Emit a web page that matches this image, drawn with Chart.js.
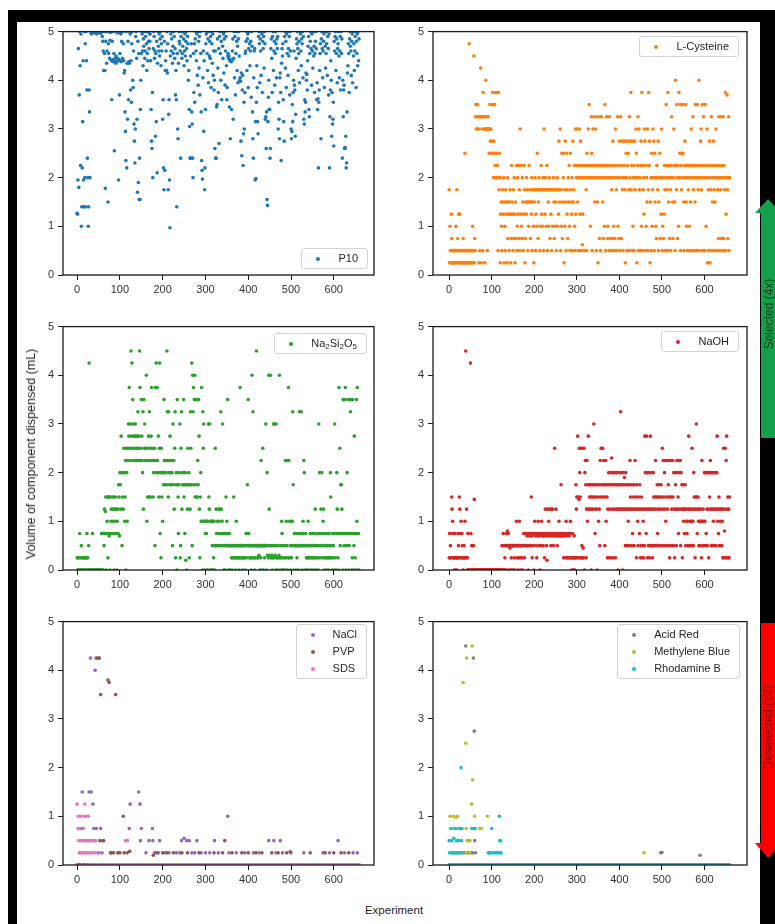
<!DOCTYPE html>
<html><head><meta charset="utf-8">
<script src="https://cdn.jsdelivr.net/npm/chart.js@4.4.1/dist/chart.umd.min.js"></script>
<style>
html,body{margin:0;padding:0;width:775px;height:924px;overflow:hidden;background:#fff;font-family:"Liberation Sans",Arial,sans-serif;}
#frame{position:absolute;left:8px;top:10px;width:767px;height:914px;background:#000;}
#fig{position:absolute;left:17px;top:22px;width:743px;height:902px;background:#fff;}
canvas{position:absolute;z-index:2;}
.legend{position:absolute;z-index:5;background:rgba(255,255,255,0.85);border:1px solid #d3d3d3;border-radius:3px;padding:2px 9px 2px 0;color:#262626;font-size:11px;}
.legend.multi{padding:1px 9px 1px 0;}
.legend .row{position:relative;height:15px;line-height:15px;padding-left:36px;white-space:nowrap;}
.legend.multi .row{height:17px;line-height:17px;}
.legend .dot{position:absolute;left:14px;top:50%;margin-top:-2px;width:4px;height:4px;border-radius:50%;}
.legend sub{font-size:8px;vertical-align:-2px;line-height:0;}
.vtext{position:absolute;z-index:6;transform:translate(-50%,-50%) rotate(-90deg);white-space:nowrap;}
.ctext{position:absolute;z-index:6;transform:translate(-50%,-50%);white-space:nowrap;}
.shape{position:absolute;z-index:4;}
</style>
</head>
<body>
<div id="frame"></div>
<div id="fig"></div>

<!-- arrows on the right -->
<div class="shape" style="left:761px;top:213px;width:16px;height:225px;background:#14a04b"></div>
<div class="shape" style="left:755px;top:199px;width:0;height:0;border-left:13px solid transparent;border-right:13px solid transparent;border-bottom:14px solid #14a04b"></div>
<div class="vtext" style="left:769px;top:314px;color:#0c3a1c;font-size:12px">Selected (4x)</div>
<div class="shape" style="left:761px;top:623px;width:16px;height:221px;background:#fe0000"></div>
<div class="shape" style="left:755px;top:843px;width:0;height:0;border-left:13px solid transparent;border-right:13px solid transparent;border-top:15px solid #fe0000"></div>
<div class="vtext" style="left:768px;top:727px;color:#8a0000;font-size:12px">Deselected (x2)</div>

<!-- shared axis titles -->
<div class="vtext" style="left:31px;top:454px;color:#222;font-size:12.5px">Volume of component dispensed (mL)</div>
<div class="ctext" style="left:394px;top:910px;color:#222;font-size:11.5px">Experiment</div>

<!-- legends -->
<div class="legend" style="right:407px;top:248px"><div class="row"><span class="dot" style="background:#1f77b4"></span>P10</div></div>
<div class="legend" style="right:36px;top:36px"><div class="row"><span class="dot" style="background:#ff7f0e"></span>L-Cysteine</div></div>
<div class="legend" style="right:408px;top:333px"><div class="row"><span class="dot" style="background:#2ca02c"></span>Na<sub>2</sub>Si<sub>2</sub>O<sub>5</sub></div></div>
<div class="legend" style="right:36px;top:331px"><div class="row"><span class="dot" style="background:#d62728"></span>NaOH</div></div>
<div class="legend multi" style="right:408px;top:624px">
  <div class="row"><span class="dot" style="background:#9467bd"></span>NaCl</div>
  <div class="row"><span class="dot" style="background:#8c564b"></span>PVP</div>
  <div class="row"><span class="dot" style="background:#e377c2"></span>SDS</div>
</div>
<div class="legend multi" style="right:35px;top:624px">
  <div class="row"><span class="dot" style="background:#7f7f7f"></span>Acid Red</div>
  <div class="row"><span class="dot" style="background:#bcbd22"></span>Methylene Blue</div>
  <div class="row"><span class="dot" style="background:#17becf"></span>Rhodamine B</div>
</div>

<script>
// ---------- tick labels ----------
const xTicks = [0, 100, 200, 300, 400, 500, 600];
const yTicks = [0, 1, 2, 3, 4, 5];

// ---------- full series: one value per experiment (mL) ----------
const p10 = [
1.27,1.25,1.95,4.65,1.8,3.7,5,4.3,2.25,4.95,1.0,1.4,2.2,3.15,4.4,1.95,1.4,5,2.0,4.75,1.4,5,4.4,3.8,2.4,2.0,1.0,1.4,3.8,3.35,
2.0,5,5,4.95,5,5,5,4.98,5,5,5,4.97,5,5,5,5,4.95,5,5,5,4.98,5,5,5,5,4.96,5,5,5,4.9,
4.8,4.6,4.2,5,4.55,4.2,1.78,4.8,5,4.35,4.6,5,1.5,4.75,4.55,5,4.45,4.82,4.98,5,
4.4,3.6,4.8,4.42,4.38,5,4.55,2.55,4.4,4.45,4.35,4.5,5,4.38,4.97,4.45,4.4,1.95,4.42,3.7,4.55,5,4.95,4.38,4.8,4.4,4.45,5,4.75,4.4,
4.15,4.2,3.35,2.95,2.35,5,2.2,4.35,3.2,4.8,3.6,4.38,4.35,5,4.95,3.8,4.4,3.55,4.75,5,4.0,3.85,4.6,3.1,2.75,2.3,3.0,4.9,5,4.45,
3.2,1.7,4.8,1.9,4.55,1.55,2.4,1.55,3.4,4.0,4.55,5,4.95,4.6,4.3,4.85,4.7,5,4.45,4.6,4.9,5,4.75,4.2,4.55,4.4,5,4.8,4.65,4.95,
4.8,4.95,4.4,3.4,2.75,2.6,3.75,2.0,4.65,5,4.9,4.45,4.6,2.85,4.55,3.15,4.8,2.1,4.35,5,4.7,4.6,4.95,4.5,4.85,5,4.3,4.75,4.6,4.9,
3.2,3.6,2.2,1.75,4.8,2.15,4.2,4.4,4.6,4.2,5,4.15,4.75,1.75,3.3,3.6,1.95,0.97,4.5,4.95,4.6,4.85,5,4.35,4.7,4.55,5,4.9,4.45,4.65,
3.7,4.2,3.6,1.4,4.55,3.0,2.8,4.35,5,4.8,4.75,4.6,2.4,4.9,5,4.45,4.55,4.7,5,4.85,4.3,4.6,4.95,4.5,4.8,5,4.65,4.4,4.9,4.75,
4.0,4.2,3.4,3.05,2.4,4.5,2.4,4.75,3.35,3.1,2.4,2.0,4.55,3.75,4.75,3.55,4.85,5,4.6,4.4,4.95,4.1,5,3.9,4.8,4.25,4.9,3.7,5,4.55,
3.35,2.35,2.15,1.97,4.05,4.6,2.95,4.4,1.75,2.2,3.4,4.75,4.95,5,4.55,4.2,4.85,3.95,5,4.5,4.8,4.45,4.9,3.85,5,4.75,4.35,4.95,4.1,4.6,
3.8,4.0,2.6,4.6,2.4,2.4,3.45,3.5,4.85,4.25,3.75,4.65,2.7,4.9,5,4.55,4.0,4.8,3.6,5,4.7,4.45,4.95,4.15,4.85,5,3.9,4.6,4.9,4.3,
3.6,3.85,4.5,4.55,4.45,4.5,3.45,4.4,2.8,4.42,4.38,3.4,4.4,4.6,4.85,3.2,4.45,5,4.05,4.9,3.7,4.55,5,4.8,4.2,4.7,3.95,4.85,5,4.5,
4.0,4.05,3.98,2.75,4.15,2.45,3.8,4.1,2.25,2.9,3.55,3.0,3.75,4.55,4.6,4.8,5,4.2,4.85,4.95,3.85,4.65,5,4.75,4.3,4.6,4.8,3.65,5,4.7,
3.35,2.8,2.4,4.05,4.6,4.65,1.95,3.15,1.98,3.55,4.3,3.85,3.15,2.9,4.9,5,4.75,3.95,4.85,4.6,4.1,5,4.95,3.75,4.8,4.65,4.9,4.25,5,4.75,
3.2,3.25,2.6,3.35,1.55,1.43,3.15,3.65,4.0,3.4,3.4,2.4,2.6,4.65,4.85,4.45,3.75,4.9,5,4.2,4.6,4.8,3.9,4.55,5,4.75,4.05,4.85,4.65,4.9,
3.0,3.55,3.2,2.8,4.05,4.15,3.75,2.35,4.35,4.65,4.5,4.75,3.6,3.15,2.75,4.9,5,4.25,4.8,3.85,4.95,4.55,5,4.1,4.65,4.5,4.9,3.7,5,4.6,
3.0,2.8,2.95,3.5,3.15,3.75,4.0,4.6,3.9,3.8,2.85,3.3,4.45,4.85,4.75,5,4.65,4.2,4.55,4.8,3.95,5,4.95,4.6,4.3,4.85,4.75,5,4.05,4.9,
3.2,3.1,3.6,3.35,3.55,4.15,4.0,4.12,3.8,4.4,4.7,4.9,3.4,3.25,4.55,4.8,5,4.65,3.9,4.95,4.6,4.25,5,4.5,4.7,3.75,4.55,4.8,5,4.65,
3.6,3.95,3.4,3.62,2.2,3.55,3.8,4.2,4.55,4.75,2.8,4.85,5,4.65,4.05,4.6,4.8,4.95,3.85,5,4.7,4.25,4.55,4.75,5,4.1,4.9,4.65,3.7,4.95,
2.2,3.25,3.8,4.4,4.0,2.85,3.75,3.1,3.2,3.55,2.65,4.8,4.6,4.9,5,4.2,4.55,4.85,3.95,4.65,4.75,5,4.5,4.05,4.6,4.9,3.8,5,4.55,4.85,
2.4,4.0,3.25,3.8,3.9,2.6,2.62,2.6,2.85,2.2,2.3,3.35,4.15,4.3,4.75,4.55,3.75,4.85,5,4.7,4.6,4.1,4.8,4.95,3.95,5,4.5,4.75,4.2,4.6,4.9,5,3.85,4.8,4.55,4.95,4.3,5,4.4,4.85
];

const lCysteine = [
1.75,0.25,1.0,0.5,0.25,1.25,0.75,0.25,0.5,0.25,0.5,0.25,0.25,0.5,0.25,0.5,1.0,0.25,1.75,0.5,
0.75,0.25,1.25,0.5,0.25,1.25,0.5,0.25,0.5,0.25,0.25,0.5,0.25,0.75,0.5,0.25,0.5,2.5,0.25,0.5,
0.25,0.5,0.25,0.5,0.25,0.5,0.25,4.75,0.5,0.25,0.5,0.25,0.5,0.25,0.5,1.0,0.25,0.5,4.5,0.25,
0.75,0.5,3.25,3.5,3.0,3.25,3.0,3.5,3.25,3.0,0.25,3.25,0.5,3.25,4.25,3.25,0.25,3.0,3.25,0.5,
3.75,3.25,3.0,3.25,0.25,3.0,4.0,3.0,3.25,3.0,0.5,3.0,3.25,3.0,2.5,3.0,3.5,2.75,3.0,2.5,
2.75,3.5,3.75,2.5,2.0,2.75,2.5,3.5,2.25,3.75,2.0,2.5,3.75,2.25,2.0,0.5,3.75,1.75,2.5,2.0,
0.25,1.25,1.5,1.0,0.5,1.75,1.5,1.25,2.0,0.25,1.5,1.0,0.5,1.75,1.25,1.5,0.25,2.0,0.75,1.5,
1.25,0.5,1.5,1.75,1.25,0.25,0.75,2.25,1.5,1.25,0.5,1.75,0.75,2.0,1.25,0.25,1.5,0.75,2.25,0.5,
1.0,2.0,1.25,2.25,0.75,1.75,0.5,3.0,1.25,2.25,1.0,0.75,2.0,1.5,0.5,1.25,2.25,1.75,0.25,0.75,
1.5,1.25,2.0,1.5,1.75,0.5,1.5,1.0,2.25,1.5,1.75,0.75,1.5,1.25,2.0,0.5,1.5,1.75,1.0,0.25,
1.5,1.75,2.0,0.5,1.25,1.75,1.0,2.5,1.75,0.75,1.5,2.0,1.75,0.5,1.0,1.75,2.25,1.25,1.75,1.0,
2.0,1.75,0.5,3.0,1.75,1.25,2.0,1.75,1.0,1.75,2.25,0.5,1.75,1.5,1.0,2.0,1.75,0.75,1.75,1.25,
1.75,0.5,1.75,1.0,1.75,2.0,1.5,0.75,1.75,1.0,1.75,1.5,0.5,1.75,2.0,1.0,1.75,1.25,2.75,1.75,
1.5,3.0,0.5,1.75,1.0,2.5,0.75,1.5,2.0,2.5,0.25,1.75,1.0,2.75,1.5,0.5,2.5,1.25,1.75,0.75,
2.0,1.5,2.25,1.0,0.5,2.5,1.75,1.5,1.25,2.0,0.5,2.75,1.5,1.75,2.25,1.0,0.5,3.0,1.25,2.0,
2.25,3.0,1.5,2.0,0.5,2.25,3.0,2.0,1.25,2.75,0.5,2.25,2.0,0.62,1.25,2.0,2.25,0.5,2.0,2.25,
2.25,2.0,1.75,0.5,2.5,2.25,2.0,3.0,2.25,3.5,2.0,2.25,1.0,2.0,3.25,2.5,0.5,2.25,3.0,2.0,
3.25,2.25,1.5,2.0,3.0,2.25,0.5,3.25,2.0,1.5,0.25,2.25,2.0,0.75,3.25,2.25,0.5,2.0,3.25,2.25,
2.0,1.5,0.75,2.25,2.0,1.0,3.5,2.25,0.5,2.0,3.25,2.25,0.75,1.0,2.0,2.25,0.5,3.25,2.0,0.75,
2.25,0.5,1.75,2.0,0.75,2.75,2.25,1.0,0.5,2.0,0.75,3.0,2.25,1.75,0.5,2.0,3.25,1.0,2.25,0.75,
2.75,2.0,0.5,3.25,2.25,0.75,2.75,1.75,2.0,0.5,2.75,2.25,2.0,1.75,0.25,2.75,2.5,2.0,0.5,2.25,
2.75,2.5,1.75,0.5,3.25,2.0,2.75,3.75,1.75,2.25,0.5,2.75,1.0,2.0,2.25,0.5,2.75,1.75,2.0,3.0,
2.5,0.25,2.0,2.25,3.25,0.5,3.0,1.75,2.0,0.5,2.25,2.75,1.0,3.75,0.5,2.25,1.75,2.0,1.25,3.0,
2.75,0.5,2.25,1.0,2.0,1.5,3.0,0.5,1.75,3.75,2.25,2.75,0.25,1.5,2.0,0.5,2.5,1.0,1.75,3.0,
2.0,2.75,0.5,2.5,1.5,2.0,1.0,0.75,2.25,2.0,1.75,2.75,0.5,1.5,2.0,2.5,0.75,2.0,1.25,3.0,
2.0,0.5,1.0,2.0,0.75,1.25,2.25,1.75,0.5,2.0,3.5,2.25,1.75,0.5,3.75,2.0,1.5,2.25,0.75,2.0,
1.75,0.5,2.25,3.25,2.0,1.5,0.75,2.0,3.0,2.25,1.5,0.5,4.0,2.25,1.75,3.5,2.0,0.75,2.25,1.0,
3.75,2.0,2.5,3.5,0.5,2.25,1.75,2.5,2.0,3.5,2.5,1.5,0.5,2.25,2.75,2.0,3.5,1.5,1.0,2.25,
0.5,2.0,1.75,2.25,0.5,1.0,2.0,1.5,2.25,3.0,0.5,2.0,2.25,3.25,1.75,2.0,0.5,2.25,1.5,3.5,
2.25,2.0,0.5,3.5,2.25,1.75,2.0,4.0,0.5,2.25,2.0,2.75,3.0,1.75,2.25,3.5,0.5,2.0,3.25,2.25,
2.0,0.5,3.5,2.25,1.0,2.0,3.0,0.25,2.25,1.75,0.5,2.0,2.75,0.25,2.25,1.75,3.25,0.5,2.0,1.5,
2.25,2.75,2.0,1.75,0.5,1.5,2.25,3.0,2.0,0.5,2.25,1.75,2.0,0.75,3.25,2.25,0.5,2.0,1.75,3.25,
0.75,2.25,2.0,0.5,3.25,0.75,2.25,1.75,2.0,3.75,0.5,1.25,2.0,3.7,1.75,0.75,2.0,3.25,0.5,2.0
];

const na2si2o5 = [
0.25,0,0.25,0,0.25,0,0.75,0,0.25,0,0.5,0,0.25,0,0.25,0,0,0.25,0,0.25,
0.25,0,0.25,0.75,0,0.25,0,0.5,4.25,0,0,0,0,0,0,0,0.75,0,0,0,
0,0,0,0,0,0,0,0,0,0,0,0,0,0,0,0,0,0.75,0,0,
0.75,0,0.75,0.5,1.25,0.75,1.2,1.5,0,0.75,1.0,1.5,0.25,0.75,1.5,0.7,1.5,0,0.75,1.0,
1.25,1.5,0.75,1.0,1.25,1.5,0,1.25,0.75,1.0,1.5,1.25,0.75,0,1.0,1.25,0.75,1.75,1.5,0.7,
2.0,1.75,1.25,2.75,2.0,0.5,1.5,2.0,1.25,2.5,2.0,1.0,1.5,2.25,0,2.5,2.0,1.0,2.25,2.5,
3.0,2.75,3.75,2.5,2.25,3.0,4.5,2.75,4.25,2.5,3.5,2.25,3.0,2.75,2.5,2.25,3.0,2.75,2.5,2.25,
2.75,2.5,3.25,2.25,2.75,2.5,4.5,3.75,2.25,2.5,3.5,2.75,2.25,2.0,3.25,1.25,3.5,2.5,3.0,2.25,
2.5,2.25,4.0,1.0,2.5,1.5,2.25,2.75,1.5,3.25,2.25,2.5,1.5,2.75,3.75,2.25,2.5,2.25,1.5,2.0,
2.25,2.5,0.5,3.75,2.25,4.25,2.0,3.75,2.25,2.0,2.75,1.5,2.5,4.25,0.75,2.0,0.25,2.5,1.5,2.0,
1.0,2.0,1.75,3.5,2.25,2.0,1.75,2.25,2.0,1.75,4.5,3.25,2.25,1.5,3.25,2.0,1.75,2.75,2.25,2.0,
1.75,2.25,2.0,0.5,3.0,1.75,2.25,1.25,2.5,3.25,0.25,1.75,2.0,0,3.5,1.75,1.5,0.75,1.75,2.0,
3.0,0.25,0.5,2.5,3.25,1.25,1.75,2.0,1.75,3.5,1.5,1.75,0.75,2.0,0.2,1.75,0,1.75,1.25,2.5,
1.75,2.0,0.25,1.75,1.25,3.25,2.5,1.75,4.25,0.5,4.0,3.25,3.75,1.75,3.5,4.0,1.5,3.5,1.75,1.5,
3.5,1.5,2.25,1.75,3.5,2.75,1.25,0.25,1.5,2.0,1.0,3.75,1.0,0,3.25,2.5,3.0,1.0,0,1.0,
0.75,1.0,0.75,1.0,0,1.0,0,3.0,1.5,1.25,3.0,1.0,0,1.0,0,1.0,0.5,0,1.0,0.25,
1.0,0,0.5,2.5,0.5,1.25,0.75,0.5,1.0,0.75,1.25,0.5,1.0,0.75,1.25,0.5,3.25,1.25,0.75,1.0,
3.0,0.5,0.75,0,0.5,0.75,0,0.5,1.5,0.75,1.0,0.5,3.5,0.75,0,0.5,0.75,0,0.5,0.5,
0.5,0.25,0,0.5,0.25,0.5,1.5,0.25,0.5,0.25,0,0.5,1.0,0.25,0.5,0.25,0.5,0.25,0,0.5,
0.25,3.75,0.5,0.25,0.5,0.25,0,0.5,0.25,0.5,0.25,0.5,0.25,0,0.5,0.75,0.25,0.75,1.75,0.5,
3.5,0.75,0.5,0.25,0.5,0.25,0.5,0,0.25,4.0,0.5,3.25,0.25,0.5,0.25,0,0.5,0.25,0.5,4.5,
0.5,0.25,0.5,0.25,0.5,0.3,0.5,0,0.5,0.25,2.25,0.5,0,0.5,2.5,0.5,0,0.5,0.25,0.5,
0.5,3.0,0.5,0,2.0,0.3,0.5,0.25,4.0,1.25,0.3,0.5,4.0,0.25,0.5,0.3,0,0.25,0.5,3.0,
0.25,3.0,0.5,0.3,0,3.0,0.25,0.5,0.25,0,0.5,0.25,0.3,4.0,0.25,0,0.5,0.25,1.0,0.75,
0,0.25,0.5,0,0.25,0.5,0,2.25,0.25,1.0,0.5,2.25,0,0.25,3.75,2.25,0.25,1.0,0.5,0,
1.0,0.25,0.5,1.0,3.25,1.75,0.5,0,0.75,0.5,0.5,0.75,0,0.5,0.25,0.5,0.75,0.5,0,0.5,
3.25,0.5,0.75,0.5,3.25,0.5,0,0.75,1.0,0.5,2.25,2.0,0.5,0,0.75,0.5,0.25,0,0.5,0.25,
1.0,0.25,0,0.5,0.25,0.75,0.5,0.25,0,0.5,0.75,0.25,0.5,0,0.25,0.75,0.5,1.25,0.25,0,
0.5,0.25,0.75,0.5,0,3.0,0.25,2.0,0.75,0.5,1.25,0.25,2.0,0.5,0.75,1.0,1.25,0.25,0,0.5,
0.75,0.25,0.5,0,0.25,0.75,0.5,0.25,0,0.75,0.5,0.25,2.0,1.5,0.25,0.5,0,0.75,0.25,0.5,
0.75,0,3.0,0.75,0.25,0,0.75,2.0,1.25,0.75,0.25,0,3.75,0.75,2.5,0.5,1.75,0.75,1.75,1.25,
0.75,0,3.5,0.75,0.5,3.5,0.75,3.75,0,0.75,0.5,2.0,0.75,3.5,0,0.75,0.5,0.75,3.5,3.25,
0.75,0,3.5,0.25,3.5,0.75,0,0.5,2.75,0.75,0.25,0,0.75,3.5,1.0,3.75,0.75,0,0.75,0
];

const naoh = [
0.25,0.75,0.25,0.5,0.75,0.25,1.5,1.25,1.0,0.25,0.75,0.25,0,0.25,0.75,0.25,0,0.25,0,0.25,
0.25,0.75,0.5,0.25,1.5,1.25,0.75,0.25,1.0,0.25,0.75,0.5,0.25,0,0.25,0.5,0.25,1.0,0.25,4.5,
0.25,1.25,0,0.25,0.75,0,0,0,0,0,4.25,0.75,0,0.5,0,0.5,0,0.5,0,1.45,
0,0,0,0,0,0,0,0,0,0,0,0,0,0,0,0,0,0,0,0,
0,0,0,0,0,0,0,0,0,0,0,0,0,0,0,0,0,0,0,0,
0,0,0,0,0,0,0,0,0,0,0,0,0,0,0,0,0,0,0,0,
0,0,0,0,0.5,0,0,0.75,0,0.5,0,0.25,0,0.5,0.75,0,0.5,0.8,0.5,0.75,
0.5,0,0.5,0.45,0,0.5,0.25,0.5,0,0.5,0.5,0,0.5,0.25,0.5,0,0.5,0.5,1.0,0.5,
0.25,0.5,0,0.5,0.25,1.0,0.5,0.25,0,0.5,0.5,0.25,0.5,0,0.5,0.75,0.5,0.25,0.75,0.5,
0.75,0.5,0.75,0.7,0.5,0.75,0,0.75,0.5,0.7,0.75,0.5,0.75,1.5,0.7,0.25,0.75,0.5,0.75,0,
0.75,1.0,0.75,0.7,0.5,0.75,0.25,0.75,0.7,1.0,0.75,0.5,0.7,0.75,0,0.75,0.5,1.0,0.75,0.7,
0.75,0.5,0.7,0.75,0.25,0.75,1.25,0.7,0.75,0.5,0.2,1.25,0.75,0.7,1.0,0.75,1.25,0.7,0.75,0.5,
1.25,0.75,0.7,1.25,0.75,0.5,0.75,0.7,2.5,0.75,0.75,1.25,0.7,0.75,0.5,0.75,0.7,0.75,1.0,0.75,
0.7,0.75,0.75,1.75,0.7,0.75,0.75,0.7,0.75,0.25,0.75,0.7,0.75,0.25,0.75,1.0,0.7,0.25,0.75,0.25,
0.75,0.25,0.7,0.75,0.25,1.0,0.75,0.25,0,0.25,0.75,0.25,0,0.25,0.7,0,0.25,0.25,1.75,1.25,
1.5,0.25,2.75,1.5,0.25,1.45,2.5,2.0,1.5,0.25,2.5,0.25,0.5,2.5,0.25,0.45,0.25,2.5,0,2.0,
2.25,1.75,0.25,1.25,2.25,1.0,1.75,2.75,1.25,1.75,1.5,1.25,1.75,1.5,0,1.25,1.75,1.5,1.25,1.75,
3.0,1.5,1.75,0.75,1.25,1.5,1.75,1.25,0,1.75,1.5,1.0,1.75,1.25,0.5,2.25,1.5,2.5,1.75,2.5,
1.75,2.5,1.5,2.25,1.75,1.5,0.5,1.75,2.25,1.0,1.75,1.5,0.25,1.25,1.75,2.0,0.25,1.25,1.75,2.0,
0.25,1.75,2.3,1.25,2.0,1.75,0.25,2.0,1.25,1.75,2.0,0.25,1.75,1.25,2.0,1.75,1.25,0,1.75,1.25,
1.75,2.0,1.25,3.25,1.75,2.0,1.25,1.75,0,2.0,1.25,1.75,1.9,1.25,0.5,2.0,1.75,1.25,0.5,1.75,
1.25,1.0,1.75,0.5,1.25,2.25,1.5,1.75,1.25,0.5,1.25,0.75,1.75,1.5,1.25,0.5,1.75,2.25,1.25,1.5,
0.25,1.75,1.25,1.0,0.5,1.5,1.25,0.75,1.75,0.25,1.25,0.5,1.5,0.25,1.25,0.5,1.0,0.25,1.25,0.5,
2.75,2.0,1.25,0.75,2.75,2.0,0.25,1.25,0.5,2.0,1.25,0.25,0.5,2.75,1.25,2.0,0.5,1.25,0.25,0.5,
2.0,1.5,1.25,0.5,1.5,2.25,1.25,0.5,1.5,1.75,0.75,1.5,1.25,0.5,1.75,1.5,1.25,0.5,1.75,0.5,
1.5,2.5,1.25,2.25,0.5,1.5,2.0,1.25,2.25,1.0,0.5,2.25,1.5,1.25,0.5,1.75,2.25,1.5,0.25,2.25,
0.5,1.5,2.25,1.25,0.5,2.25,1.5,0.5,2.0,1.25,0.25,2.0,1.75,1.25,0.5,2.25,1.25,2.0,1.5,0.75,
2.25,1.25,2.0,2.25,0.5,2.0,1.25,1.75,0.25,1.25,1.75,1.0,1.25,0.75,1.25,1.75,0.5,1.25,1.0,0.75,
1.0,0.5,1.25,2.75,0.5,1.25,1.0,0.5,1.25,1.0,0.5,2.5,1.25,1.0,0.5,2.0,1.5,1.25,0.25,1.5,
1.25,3.0,1.5,0.75,1.25,1.5,1.0,0.5,1.25,1.0,0.5,1.25,1.0,0.25,2.25,1.0,0.5,1.25,1.0,0.5,
2.0,1.0,0.5,2.0,0.75,2.0,1.25,0.5,2.0,1.25,0.25,2.0,1.5,2.0,2.25,1.25,0.5,2.0,1.25,0.5,
2.0,1.0,1.25,2.0,0.5,1.25,2.0,0.5,1.25,2.0,2.75,1.0,1.25,0.75,1.5,0.5,1.25,1.0,0.5,1.25,
1.25,0.5,1.0,0.25,1.25,2.5,0.25,0.8,1.25,2.5,0.25,2.25,2.75,0.25,1.25,1.5,0.25,1.25,0.25,1.5
];

// ---------- sparse series: [experiment, mL] where non-zero; all other experiments are 0 ----------
const nacl = [[12,1.5],[28,1.5],[31,4.25],[33,1.5],[37,1.25],[39,0.75],[41,0.5],[42,4.0],[44,4.25],[45,0.75],[50,0.25],[55,0.75],[58,0.25],
[122,0.75],[124,1.25],[144,1.5],[147,1.25],[148,0.5],[150,0.75],[161,0.25],[168,0.5],[176,0.75],[177,0.5],[181,0.25],[190,0.25],[193,0.5],
[205,0.25],[215,0.25],[232,0.25],[240,0.25],[244,0.5],[250,0.55],[256,0.5],[262,0.5],[268,0.25],[275,0.25],[280,0.5],[290,0.25],[300,0.25],
[310,0.25],[321,0.5],[330,0.25],[352,1.0],[355,0.25],[372,0.25],[392,0.25],[412,0.25],[425,0.25],[448,0.5],[460,0.5],[465,0.25],[475,0.5],
[480,0.25],[500,0.25],[530,0.25],[575,0.25],[590,0.25],[610,0.5],[625,0.25],[645,0.25],[655,0.25]];
const pvp = [[10,0.75],[20,0.5],[48,4.25],[52,4.25],[53,0.5],[55,3.5],[60,0.5],[62,0.5],[72,3.8],[75,3.75],[78,0.25],[80,0.25],[85,0.25],
[90,3.5],[95,0.25],[100,0.25],[108,1.0],[110,0.25],[117,0.25],[123,0.28],[178,0.2],[186,0.25],[200,0.25],[210,0.25],[225,0.25],[245,0.25],
[258,0.25],[285,0.25],[320,0.25],[340,0.25],[345,0.5],[362,0.25],[385,0.25],[400,0.25],[418,0.25],[432,0.25],[455,0.25],[470,0.25],[490,0.25],
[498,0.27],[545,0.25],[580,0.25],[600,0.25],[617,0.25],[635,0.25]];
const sds = [[0,1.25],[2,0.75],[3,1.0],[4,0.5],[5,0.25],[6,0.75],[7,0.25],[8,1.0],[9,0.5],[11,0.25],[13,0.5],[14,0.25],[15,0.75],[16,1.0],
[17,0.25],[18,1.25],[19,0.5],[21,1.0],[22,0.25],[24,0.5],[25,0.25],[26,1.0],[27,0.5],[29,0.25],[30,0.5],[34,0.25],[36,0.5],[40,0.25],
[43,0.5],[46,0.25],[113,0.5],[118,0.5]];
const acidRed = [[10,0.25],[20,0.25],[36,0.25],[39,4.5],[45,0.25],[50,0.25],[55,0.25],[57,4.25],[59,2.75],[60,0.5],[62,0.25],[95,0.25],
[497,0.25],[500,0.26],[590,0.2]];
const methyleneBlue = [[2,1.0],[3,0.75],[4,0.25],[8,0.25],[10,1.0],[12,0.75],[14,0.25],[16,0.98],[18,0.25],[20,1.0],[22,0.75],[26,0.25],
[30,0.25],[33,3.75],[38,0.25],[39,2.5],[40,0.75],[41,4.25],[42,0.5],[46,0.5],[48,0.25],[49,0.5],[53,1.25],[54,4.5],[55,1.75],[60,1.0],
[72,0.75],[76,0.75],[90,1.0],[120,0.25],[458,0.25]];
const rhodamineB = [[0,0.5],[1,0.25],[5,0.75],[6,0.5],[7,0.25],[11,0.55],[13,0.25],[15,0.75],[17,0.5],[19,0.25],[23,0.5],[24,0.25],[25,0.75],
[28,2.0],[29,0.5],[30,0.75],[32,0.25],[53,0.75],[58,0.75],[61,0.75],[92,0.25],[97,0.25],[100,0.75],[103,0.25],[108,0.25],[112,0.25],
[116,0.25],[118,1.0],[119,0.5],[121,0.5],[122,0.25]];

// ---------- build chart data ----------
const experiments = p10.map((_, i) => i);
function fullSeries(values) { return values.map((v, i) => ({x: experiments[i], y: v})); }
function sparseSeries(pairs) {
  const m = new Map(pairs.map(p => [p[0], p[1]]));
  return experiments.map(x => ({x: x, y: m.has(x) ? m.get(x) : 0}));
}
const colors = {p10:'#1f77b4', lcys:'#ff7f0e', na:'#2ca02c', naoh:'#d62728', nacl:'#9467bd', pvp:'#8c564b',
  sds:'#e377c2', ar:'#7f7f7f', mb:'#bcbd22', rb:'#17becf'};
function ds(label, points, color, order) {
  return {label, data: points, backgroundColor: color, borderColor: color, pointRadius: 1.8,
    pointBorderWidth: 0, pointHoverRadius: 0, order: order || 0};
}

const FONT = '"Liberation Sans", Arial, sans-serif';
Chart.defaults.font.family = FONT;

const framePlugin = {
  id: 'frame',
  afterDatasetsDraw(chart) {
    const a = chart.chartArea, c = chart.ctx;
    c.save(); c.strokeStyle = '#1a1a1a'; c.lineWidth = 1.3;
    c.strokeRect(a.left, a.top, a.right - a.left, a.bottom - a.top);
    c.restore();
  }
};

const cols = [
  {left: 23, width: 355, xMin: -33, xMax: 694},
  {left: 393, width: 358, xMin: -38, xMax: 700}
];
const rowTops = [21, 316, 611];
const H = 284;

function makePanel(col, top, datasets) {
  const cv = document.createElement('canvas');
  cv.width = col.width; cv.height = H;
  cv.style.left = col.left + 'px'; cv.style.top = top + 'px';
  cv.style.width = col.width + 'px'; cv.style.height = H + 'px';
  document.body.appendChild(cv);
  const axisCommon = {
    grid: {display: true, drawOnChartArea: false, drawTicks: true, tickLength: 5, tickColor: '#1a1a1a', tickWidth: 1},
    border: {display: false},
    ticks: {color: '#333', font: {family: FONT, size: 11}, autoSkip: false, maxRotation: 0}
  };
  new Chart(cv.getContext('2d'), {
    type: 'scatter',
    data: {datasets},
    options: {
      responsive: false, animation: false, events: [],
      layout: {padding: {top: 8, right: 4, left: 0, bottom: 0}},
      plugins: {legend: {display: false}, tooltip: {enabled: false}},
      scales: {
        x: Object.assign({}, axisCommon, {
          type: 'linear', min: col.xMin, max: col.xMax,
          ticks: Object.assign({}, axisCommon.ticks, {padding: 3}),
          afterBuildTicks: s => { s.ticks = xTicks.map(v => ({value: v})); },
          afterFit: s => { s.height = 30; }
        }),
        y: Object.assign({}, axisCommon, {
          type: 'linear', min: 0, max: 5,
          ticks: Object.assign({}, axisCommon.ticks, {padding: 4}),
          afterBuildTicks: s => { s.ticks = yTicks.map(v => ({value: v})); },
          afterFit: s => { s.width = 40; }
        })
      }
    },
    plugins: [framePlugin]
  });
}

makePanel(cols[0], rowTops[0], [ds('P10', fullSeries(p10), colors.p10)]);
makePanel(cols[1], rowTops[0], [ds('L-Cysteine', fullSeries(lCysteine), colors.lcys)]);
makePanel(cols[0], rowTops[1], [ds('Na2Si2O5', fullSeries(na2si2o5), colors.na)]);
makePanel(cols[1], rowTops[1], [ds('NaOH', fullSeries(naoh), colors.naoh)]);
makePanel(cols[0], rowTops[2], [
  ds('NaCl', sparseSeries(nacl), colors.nacl, 3),
  ds('PVP', sparseSeries(pvp), colors.pvp, 2),
  ds('SDS', sparseSeries(sds), colors.sds, 1)
]);
makePanel(cols[1], rowTops[2], [
  ds('Acid Red', sparseSeries(acidRed), colors.ar, 3),
  ds('Methylene Blue', sparseSeries(methyleneBlue), colors.mb, 2),
  ds('Rhodamine B', sparseSeries(rhodamineB), colors.rb, 1)
]);
</script>
</body></html>
